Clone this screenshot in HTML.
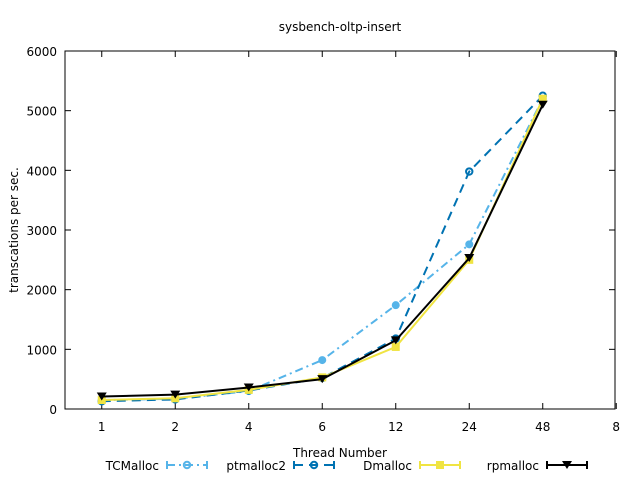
<!DOCTYPE html>
<html><head><meta charset="utf-8"><style>
body{margin:0;background:#fff}
svg text{font-family:"DejaVu Sans","Liberation Sans",sans-serif;font-size:12px;fill:#000}
</style></head><body>
<svg width="640" height="480" id="chart">
<text x="340" y="31" text-anchor="middle">sysbench-oltp-insert</text>
<rect x="65" y="51" width="550" height="358" fill="none" stroke="#000"/>
<g id="axes"></g>
<g id="series"></g>
<text x="340" y="457" text-anchor="middle">Thread Number</text>
<text transform="translate(18,230) rotate(-90)" text-anchor="middle">transcations per sec.</text>
<g id="legend"></g>
</svg>
<script>
const categories=["1","2","4","6","12","24","48","8"];
const yTicks=[0,1000,2000,3000,4000,5000,6000];
const tcmalloc=[150,170,300,820,1740,2760,5200];
const ptmalloc2=[130,160,310,520,1180,3980,5250];
const dmalloc=[150,180,320,530,1040,2500,5200];
const rpmalloc=[210,240,360,500,1150,2530,5100];
const names=["TCMalloc","ptmalloc2","Dmalloc","rpmalloc"];
const NS="http://www.w3.org/2000/svg";
function xs(i){return 65+(i+0.5)*73.5;}
function ys(v){return 409-v*358/6000;}
function mk(tag,attrs,parent){const e=document.createElementNS(NS,tag);for(const k in attrs)e.setAttribute(k,attrs[k]);parent.appendChild(e);return e;}
const axes=document.getElementById('axes');
yTicks.forEach(t=>{
 const y=ys(t);
 const l=mk('line',{x1:65,x2:71,y1:y,y2:y,stroke:'#000'},axes);
 
 
 const l2=mk('line',{x1:609,x2:615,y1:y,y2:y,stroke:'#000'},axes);
 
 
 const tx=mk('text',{x:57,y:y+5,'text-anchor':'end'},axes);tx.textContent=t;
 
 
});
categories.forEach((c,i)=>{
 const x=xs(i);
 const l=mk('line',{x1:x,x2:x,y1:409,y2:403,stroke:'#000'},axes);
 
 
 const l2=mk('line',{x1:x,x2:x,y1:51,y2:57,stroke:'#000'},axes);
 
 
 const tx=mk('text',{x:x,y:431,'text-anchor':'middle'},axes);tx.textContent=c;
 
 
});
const sdefs=[
 {d:tcmalloc,c:'#56b4e9',dash:'8,4,2,4',m:'circle-fill'},
 {d:ptmalloc2,c:'#0072b2',dash:'9,6',m:'circle'},
 {d:dmalloc,c:'#f0e442',dash:'',m:'square'},
 {d:rpmalloc,c:'#000',dash:'',m:'tri'}];
const sg=document.getElementById('series');
function marker(m,x,y,c,g){
 let e;
 if(m==='circle-fill')e=mk('circle',{cx:x,cy:y,r:3.5,fill:c,stroke:c,'stroke-width':1},g);
 else if(m==='circle')e=mk('circle',{cx:x,cy:y,r:3.2,fill:'none',stroke:c,'stroke-width':2},g);
 else if(m==='square')e=mk('rect',{x:x-4,y:y-4,width:8,height:8,fill:c},g);
 else e=mk('path',{d:`M${x-5},${y-4}L${x+5},${y-4}L${x},${y+4}Z`,fill:c},g);
 return e;
}
sdefs.forEach((s,k)=>{
 const g=mk('g',{},sg);
 
 
 const pts=s.d.map((v,i)=>xs(i)+','+ys(v)).join(' ');
 const pl=mk('polyline',{points:pts,fill:'none',stroke:s.c,'stroke-width':2,'stroke-dasharray':s.dash},g);
 
 
 s.d.forEach((v,i)=>{
  const e=marker(s.m,xs(i),ys(v),s.c,g);
  
  
 });
});
const lg=document.getElementById('legend');
const lx=[161,288,414,541];
sdefs.forEach((s,k)=>{
 const g=mk('g',{},lg);
 
 
 const tx=mk('text',{x:lx[k]-2,y:470,'text-anchor':'end'},g);tx.textContent=names[k];
 const x0=lx[k]+6,x1=lx[k]+46,y=465;
 mk('line',{x1:x0,x2:x1,y1:y,y2:y,stroke:s.c,'stroke-width':2,'stroke-dasharray':s.dash},g);
 mk('line',{x1:x0,x2:x0,y1:y-4,y2:y+4,stroke:s.c,'stroke-width':2},g);
 mk('line',{x1:x1,x2:x1,y1:y-4,y2:y+4,stroke:s.c,'stroke-width':2},g);
 marker(s.m==='circle-fill'?'circle':s.m,(x0+x1)/2,y,s.c,g);
});
</script>
</body></html>
